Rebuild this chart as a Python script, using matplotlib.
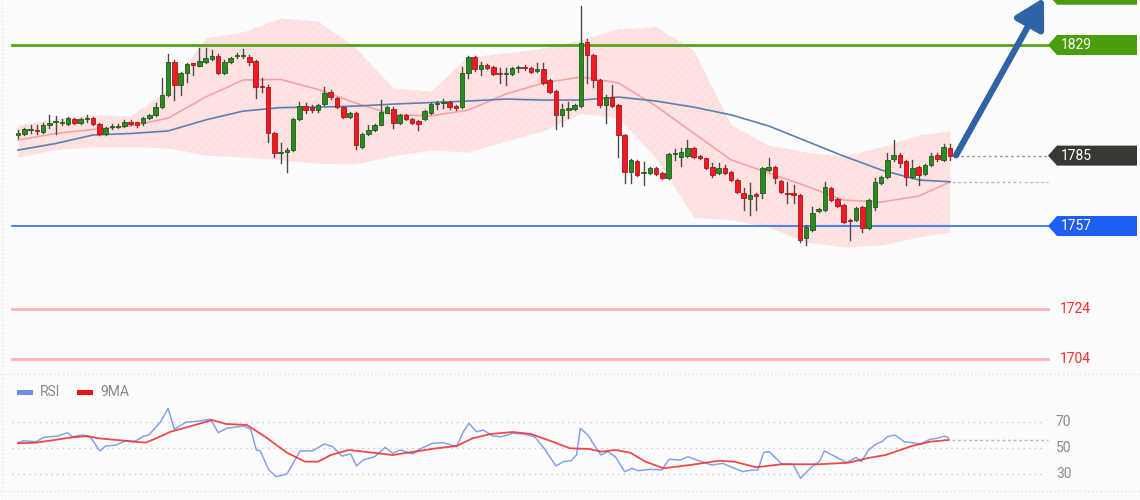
import matplotlib
matplotlib.use('Agg')
import matplotlib.pyplot as plt
from matplotlib.patches import Polygon, Rectangle
from matplotlib.lines import Line2D
import numpy as np

plt.rcParams['font.family'] = ['Roboto', 'DejaVu Sans']
plt.rcParams['hatch.linewidth'] = 0.5

# ---- candles ----
opens = [1793, 1793.5, 1795.2, 1795, 1794.5, 1797.3, 1798.4, 1798, 1797.5, 1799.5,
         1797.8, 1799.5, 1799.8, 1797.5, 1793.6, 1796.2, 1796.4, 1796.8, 1798.5, 1798.2,
         1797.8, 1799.8, 1801.1, 1804.2, 1809.1, 1822.4, 1813.1, 1817.7, 1821.7, 1820.8,
         1822.3, 1823.3, 1824.6, 1818, 1822.4, 1824.5, 1824.6, 1824.3, 1822.6, 1812.4,
         1812.2, 1793.9, 1785.9, 1786.5, 1787.2, 1799.4, 1804.7, 1804.3, 1803.1, 1805.5,
         1810.2, 1808, 1804.2, 1800.2, 1801.8, 1788.5, 1793.6, 1795.2, 1797.2, 1802.1,
         1803.4, 1797.8, 1801.1, 1799.4, 1798.9, 1799.6, 1802.1, 1805.5, 1806, 1806.4,
         1804.7, 1804.2, 1818, 1824.3, 1819.3, 1821, 1820.4, 1817.5, 1817.3, 1817.5,
         1819.8, 1820, 1819.8, 1818.5, 1819.3, 1815.1, 1810.8, 1801.1, 1803.1, 1803.4,
         1804.7, 1830.3, 1825, 1815.1, 1805.1, 1808.4, 1805.1, 1793.2, 1778.6, 1782.7,
         1778, 1778, 1779.9, 1778, 1776, 1785.6, 1784.6, 1784.8, 1787.9, 1784.8,
         1783.9, 1780.6, 1778, 1779.9, 1778.6, 1775.3, 1770.2, 1767.6, 1769.3, 1770,
         1779.3, 1780.6, 1775, 1770.2, 1770.2, 1769.3, 1752.1, 1755.4, 1762.9, 1763.4,
         1772, 1767.7, 1765.3, 1759.4, 1759.4, 1764.4, 1756.1, 1764.4, 1774, 1776.4,
         1783.5, 1785.2, 1783, 1776.6, 1780.6, 1777.7, 1781.3, 1785.2, 1783.3, 1788.2]
closes = [1794, 1795.5, 1795.5, 1794.8, 1797, 1797.6, 1798.5, 1798.2, 1799.8, 1797.8,
          1799.5, 1799.7, 1797.5, 1793.6, 1796.1, 1796.4, 1796.6, 1798.4, 1797.5, 1797.2,
          1799.8, 1801.1, 1804.2, 1809.1, 1822.4, 1813.1, 1817.7, 1821.3, 1821, 1822.7,
          1823.7, 1824.6, 1818, 1822.4, 1823.7, 1824.7, 1824.8, 1822.4, 1812.4, 1812.2,
          1793.9, 1785.9, 1786.1, 1787.2, 1799.4, 1804.7, 1803.1, 1803.2, 1805.1, 1809.8,
          1808.4, 1804.5, 1800.2, 1802.1, 1789.2, 1793.6, 1795.2, 1797.2, 1802.5, 1804.2,
          1797.8, 1801.1, 1799.6, 1797.8, 1797.6, 1802.9, 1805.5, 1805.7, 1806.2, 1804.4,
          1803.8, 1818, 1824.3, 1819.3, 1821, 1819.7, 1817.5, 1817.3, 1817.6, 1820,
          1820, 1819.9, 1818.4, 1819.3, 1814, 1810.4, 1801.1, 1803.4, 1803.8, 1805.1,
          1829.9, 1825, 1815.1, 1805.1, 1808.4, 1804.7, 1793.2, 1778.6, 1783.3, 1777.3,
          1778.2, 1779.9, 1777.7, 1776, 1785.6, 1785.8, 1786.5, 1787.9, 1784.6, 1783.9,
          1779.9, 1777.3, 1779.9, 1778, 1775.3, 1770.6, 1768, 1769.3, 1769.1, 1779.9,
          1780.6, 1776, 1770.6, 1769.7, 1769.3, 1751.4, 1756.7, 1762.3, 1763.7, 1772.6,
          1767.3, 1764.9, 1758.7, 1758.8, 1764, 1756.1, 1767.3, 1774.6, 1776.4, 1783.3,
          1785.2, 1782.2, 1776.6, 1779.9, 1777.3, 1781.3, 1784.8, 1783.5, 1788.5, 1784.8]
highs = [1795, 1796, 1797, 1797, 1798, 1801, 1800.7, 1799.5, 1800.5, 1800,
         1800, 1801, 1800.5, 1798, 1796.5, 1797.5, 1797.5, 1799, 1799, 1798.5,
         1800.3, 1801.5, 1805.8, 1815.7, 1825.4, 1823, 1818.3, 1822, 1822, 1827.8,
         1827.7, 1827, 1825.5, 1823, 1824.2, 1826, 1827.4, 1825, 1823, 1815.8,
         1813, 1794.5, 1790, 1788, 1800, 1806.4, 1806, 1805, 1805.5, 1812.1,
         1811, 1808.5, 1804.5, 1802.5, 1802.5, 1794, 1797.2, 1797.5, 1807.1, 1804.6,
         1804.3, 1801.6, 1801.5, 1799.8, 1799.2, 1803.3, 1806, 1806.8, 1807.4, 1806.8,
         1805, 1820.4, 1824.7, 1824.8, 1822.4, 1821.5, 1820.8, 1819.8, 1819.8, 1820.4,
         1820.6, 1821, 1820.1, 1821.7, 1822, 1815.5, 1811.2, 1805.5, 1806.4, 1805.5,
         1844.5, 1831.4, 1825.5, 1815.5, 1809, 1813.1, 1805.5, 1793.6, 1783.8, 1783.2,
         1782.6, 1780.4, 1780.3, 1778.4, 1786, 1787.5, 1788, 1791.2, 1788.3, 1785.2,
         1784.2, 1781.9, 1781.9, 1781.3, 1779, 1775.7, 1772.1, 1774.1, 1770.1, 1780.6,
         1783.9, 1781, 1775.4, 1774.6, 1773.3, 1769.7, 1757.5, 1764.4, 1764, 1774.6,
         1772.4, 1768, 1765.7, 1759.8, 1764.4, 1764.8, 1767.7, 1776, 1776.8, 1785.9,
         1791.2, 1785.9, 1783.4, 1783.3, 1781, 1781.7, 1785.9, 1786, 1789.8, 1789.5]
lows = [1792, 1793, 1794, 1793.5, 1794, 1796, 1793.5, 1797, 1797, 1797.5,
        1797.5, 1798.3, 1797, 1793, 1793, 1795.5, 1796, 1796.5, 1797, 1796.5,
        1797.3, 1799.5, 1800.8, 1804, 1808.8, 1807.1, 1809.1, 1814.4, 1817, 1820.5,
        1822, 1823, 1817.5, 1817.5, 1822, 1823.7, 1823.8, 1821, 1807.8, 1810.3,
        1790.5, 1784.6, 1782, 1778.6, 1786.8, 1799, 1802, 1802.5, 1802.5, 1805,
        1807.5, 1804, 1799.8, 1799.8, 1787.5, 1788, 1793, 1794.8, 1797, 1801.8,
        1795.8, 1797.4, 1799.2, 1797.4, 1795.2, 1799.2, 1801.7, 1803.4, 1803.8, 1803.5,
        1803.2, 1803.8, 1815.8, 1818.8, 1817.1, 1819.3, 1817, 1814, 1813.1, 1817,
        1818.3, 1819, 1818, 1818.2, 1813.6, 1810, 1795.5, 1796.8, 1799.8, 1803,
        1804.3, 1813.7, 1812.4, 1804.5, 1798.1, 1804.3, 1784.6, 1774.2, 1774.2, 1776.8,
        1773.3, 1777.6, 1777.3, 1775.5, 1775.6, 1783.3, 1781, 1784.4, 1784.2, 1783.5,
        1779.5, 1776.5, 1777.6, 1777.6, 1775, 1770.2, 1763.4, 1761.4, 1763.4, 1768,
        1779, 1774, 1770.2, 1766, 1766, 1750.5, 1749.4, 1755, 1762.5, 1763,
        1767, 1764.5, 1758.3, 1751.4, 1759, 1754.7, 1755.7, 1763.4, 1773.6, 1776,
        1783, 1780.6, 1773.3, 1776.2, 1773.3, 1777.3, 1781, 1783, 1782.8, 1783.3]

# ---- overlays sampled every 6 bars ----
ma_idx = list(range(0, 150, 6)) + [149]
ma20 = [1791.2, 1793.8, 1795.4, 1796.8, 1799.9, 1808.3, 1815.1, 1815.3, 1811.3, 1805.9,
        1801.3, 1800.8, 1803.1, 1809.5, 1813.9, 1816.3, 1813.9, 1804.7, 1794.0, 1783.3,
        1778.1, 1772.9, 1767.3, 1766.5, 1768.9, 1774.5]
ma_slow = [1787.2, 1789.8, 1793.2, 1793.8, 1794.8, 1799.2, 1802.7, 1804.1, 1804.3, 1804.7,
           1805.5, 1806.1, 1806.7, 1807.5, 1807.1, 1807.1, 1808.3, 1806.7, 1804.3, 1801.2,
           1796.8, 1790.8, 1784.8, 1779.3, 1775.3, 1774.6]
bb_up = [1797.2, 1799.6, 1801.2, 1800.8, 1811.1, 1831.8, 1834.2, 1839.7, 1838.5, 1827.8,
         1811.9, 1810.7, 1824.2, 1825.8, 1827.8, 1831.0, 1835.4, 1836.2, 1827.0, 1797.2,
         1789.2, 1786.4, 1784.8, 1788.4, 1793.2, 1794.8]
bb_lo = [1784.4, 1787.4, 1788.4, 1788.6, 1788.0, 1785.2, 1784.4, 1783.3, 1781.9, 1781.7,
         1785.0, 1787.2, 1786.4, 1790.8, 1794.8, 1801.8, 1800.0, 1784.0, 1760.6, 1759.4,
         1756.6, 1750.6, 1748.6, 1749.4, 1752.6, 1754.6]

# ---- levels ----
resist = 1829
support = 1757
lower_levels = [1724, 1704]
target = 1849

# ---- RSI panel ----
rsi_idx = [0, 0.9, 2.9, 4.1, 6.4, 7.9, 8.7, 10.5, 11.7, 13.1, 14.0, 15.7, 17.2, 18.6, 20.1,
           20.9, 22.7, 24.0, 25.0, 26.8, 29.1, 30.8, 32.0, 33.4, 36.1, 37.2, 38.1, 38.7,
           40.1, 41.3, 43.0, 45.1, 47.1, 49.0, 50.3, 51.8, 53.2, 54.1, 55.2, 57.0, 58.7,
           59.9, 61.1, 63.1, 64.5, 66.3, 68.0, 70.1, 71.2, 72.1, 73.3, 74.4, 75.9, 77.3,
           79.1, 80.8, 82.6, 84.3, 86.0, 87.2, 88.4, 89.3, 89.9, 91.1, 92.3, 93.2, 94.3,
           95.5, 97.0, 98.2, 99.1, 101.1, 102.9, 104.1, 105.9, 107.1, 108.5, 110.9, 112.7,
           114.5, 115.9, 117.4, 118.3, 119.2, 120.1, 122.1, 123.9, 125.1, 126.9, 128.1,
           128.9, 130.7, 132.5, 134.0, 134.8, 136.0, 137.2, 138.1, 139.0, 140.2, 141.7,
           142.9, 144.3, 145.8, 147.0, 148.2, 148.8]
rsi = [54.1, 55.6, 54.8, 58.2, 59.2, 61.8, 58.7, 60, 57.5, 47.7, 51.5, 52.3, 55.6, 54.8, 59.2,
       60, 69.5, 80.5, 64.4, 69.8, 70.8, 72.1, 61.8, 65.2, 66.9, 64.4, 48.5, 47.9,
       33.1, 27.9, 30, 47.7, 47.9, 53.1, 51, 43.8, 45.4, 36.2, 40.8, 43.3, 50.5,
       45.9, 48.5, 45.4, 49.8, 53.6, 54.1, 51, 62.5, 69, 62.5, 63.8, 59.2, 58.7,
       61.3, 60.8, 58.7, 48.5, 36.2, 39.5, 40.2, 44.6, 65.2, 60, 51, 44.6, 47.2,
       43.3, 31.8, 34.4, 32.5, 33.6, 33.1, 41.3, 40.8, 43.3, 40.8, 36.9, 38.2,
       34.4, 31.8, 33.1, 33.1, 46.4, 47.2, 37.7, 37.5, 26.7, 35.6, 39.5,
       47.7, 43.3, 38.7, 42.8, 39.5, 48.5, 53.1, 54.8, 58.7, 60, 54.8,
       54.1, 53.1, 56.7, 57.5, 59.2, 57.5]
ma9_idx = [0, 2.9, 5.8, 8.7, 11.1, 12.8, 15.7, 20.4, 22.1, 24.4, 27.3, 31.1, 33.2, 36.6,
           39.5, 43.0, 45.9, 48.0, 50.0, 52.9, 55.2, 59.9, 63.4, 66.9, 70.1, 72.7, 75.6,
           79.1, 82.0, 85.5, 88.2, 91.4, 93.2, 95.5, 97.9, 100.3, 103.2, 107.4, 112.1,
           114.5, 118.0, 122.1, 128.1, 132.8, 135.7, 138.7, 142.9, 145.8, 148.8]
ma9 = [53.6, 54.1, 56.2, 58.2, 59.2, 57.5, 56.2, 54.1, 57.5, 62.5, 66.4, 71.5, 68.5, 67.7,
       58.7, 46.4, 39.5, 39.5, 44.6, 48.5, 47.2, 44.6, 47.2, 49.8, 51.5, 57.5, 60.8,
       62.3, 60.8, 54.8, 49.8, 49.2, 47.2, 48.5, 46.4, 39.5, 34.4, 36.9, 40.2,
       39.5, 35.2, 37.5, 37.5, 38.7, 42.1, 44.6, 51.5, 54.8, 56.2]
rsi_levels = [70, 50, 30]

# ---- layout: pixel helpers (1140x500 canvas) ----
BAR_PX = 6.255
def bx(px):
    return (px - 18) / BAR_PX

PX_PRICE = 0.3978   # price units per pixel
PX_RSI = 1 / 1.3

fig = plt.figure(figsize=(11.4, 5), dpi=100)
fig.patch.set_facecolor('#fbfcfb')

ax = fig.add_axes([0, 128 / 500, 1, 372 / 500])
ax.set_xlim(bx(0), bx(1140))
ax.set_ylim(1846.9 - 372 * PX_PRICE, 1846.9)
ax.axis('off')

# bollinger band
ax.fill_between(ma_idx, bb_lo, bb_up, color='#ffe3e3', lw=0, zorder=0)
ax.fill_between(ma_idx, bb_lo, bb_up, facecolor='none', edgecolor='#fdd9d9',
                hatch='////', lw=0, zorder=0)
ax.plot(ma_idx, ma20, color='#f7a3a3', lw=1.2, zorder=1)
ax.plot(ma_idx, ma_slow, color='#5c7fb6', lw=1.2, zorder=1)

# horizontal levels
ax.plot([bx(12), bx(1048)], [resist, resist], color='#52a515', lw=2, zorder=1)
ax.plot([bx(12), bx(1048)], [support, support], color='#3b78f0', lw=1.3, zorder=1)
for lv in lower_levels:
    ax.plot([bx(12), bx(1048)], [lv, lv], color='#ffb5b5', lw=2, zorder=1)
    ax.text(bx(1060), lv, str(lv), color='#ff2b2b', fontsize=10, va='center', ha='left')

ax.plot([bx(955), bx(1048)], [closes[-1], closes[-1]], color='#999999', lw=1,
        ls=(0, (2, 2)), zorder=1)
ax.plot([bx(952), bx(1048)], [ma_slow[-1], ma_slow[-1]], color='#a9b9e8', lw=1,
        ls=(0, (2, 2)), zorder=1)

# candles
for i in range(len(closes)):
    o, c, h, l = opens[i], closes[i], highs[i], lows[i]
    up = c >= o
    ax.plot([i, i], [l, h], color='#4a4a4a', lw=1, zorder=2)
    bot = min(o, c)
    hgt = max(abs(c - o), 0.5)
    ax.add_patch(Rectangle((i - 0.36, bot), 0.72, hgt,
                           facecolor='#2b8a24' if up else '#ee1b24',
                           edgecolor='#1c5e16' if up else '#b3141a',
                           lw=0.6, zorder=3))

# right-side price tags
def tag(price, color, text=None):
    h = 10 * PX_PRICE
    pts = [(bx(1048), price), (bx(1057), price + h), (bx(1137), price + h),
           (bx(1137), price - h), (bx(1057), price - h)]
    ax.add_patch(Polygon(pts, closed=True, facecolor=color, edgecolor='none', zorder=4))
    if text:
        ax.text(bx(1061), price, text, color='white', fontsize=10, va='center',
                ha='left', zorder=5)

tag(target, '#4a9e0c')   # upper target tag, its text is off the top edge
tag(resist, '#4a9e0c', str(resist))
tag(round(closes[-1]), '#383835', str(round(closes[-1])))
tag(support, '#1f5ef2', str(support))

# forecast arrow
ax.annotate('', xy=(bx(1044), 1847.8), xytext=(bx(956), closes[-1] + 0.3),
            arrowprops=dict(arrowstyle='-|>,head_width=0.45,head_length=0.8',
                            lw=4.5, color='#2f63a6', shrinkA=0, shrinkB=0,
                            mutation_scale=22),
            annotation_clip=False, zorder=6)

# ---- RSI axes ----
ax2 = fig.add_axes([0, 0, 1, 126 / 500])
ax2.set_xlim(bx(0), bx(1140))
ax2.set_ylim(50 - 52 * PX_RSI, 50 + 74 * PX_RSI)
ax2.axis('off')

for lv in rsi_levels:
    ax2.plot([bx(12), bx(1045)], [lv, lv], color='#c6ccd6', lw=1, ls=(0, (1, 3)))
    ax2.text(bx(1056), lv, str(lv), color='#8c8c8c', fontsize=10, va='center', ha='left')

ax2.plot(rsi_idx, rsi, color='#84a2ee', lw=1.1)
ax2.plot(ma9_idx, ma9, color='#f02a2a', lw=1.3, alpha=0.85)
ax2.plot([bx(952), bx(1048)], [ma9[-1], ma9[-1]], color='#a9b9e8', lw=1, ls=(0, (2, 2)))

# legend
leg_y = 50 + (448 - 392) * PX_RSI
ax2.add_patch(Rectangle((bx(17), leg_y - 2.5 * PX_RSI), bx(33) - bx(17), 5 * PX_RSI,
                        facecolor='#6a8fe6', edgecolor='none'))
ax2.text(bx(40), leg_y, 'RSI', color='#888888', fontsize=10, va='center')
ax2.add_patch(Rectangle((bx(77), leg_y - 2.5 * PX_RSI), bx(93) - bx(77), 5 * PX_RSI,
                        facecolor='#ee1111', edgecolor='none'))
ax2.text(bx(100), leg_y, '9MA', color='#888888', fontsize=10, va='center')

# panel separators
for yy in [1 - 374 / 500, 1 - 491 / 500]:
    fig.add_artist(Line2D([0, 1], [yy, yy], color='#dde3ee', lw=1, ls=(0, (1, 2))))
fig.add_artist(Line2D([2 / 1140, 2 / 1140], [0, 1], color='#e4e9f1', lw=1, ls=(0, (1, 2))))

fig.savefig('out.png', dpi=100, facecolor=fig.get_facecolor())
